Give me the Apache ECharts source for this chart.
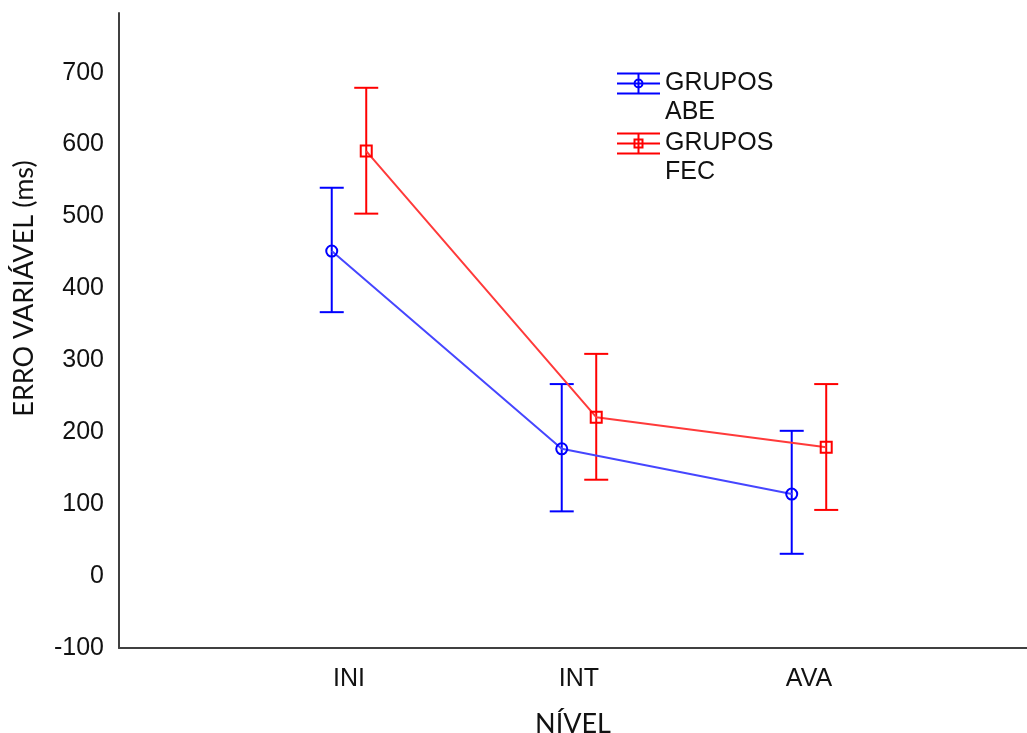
<!DOCTYPE html>
<html>
<head>
<meta charset="utf-8">
<script src="https://cdn.jsdelivr.net/npm/echarts@6/dist/echarts.min.js"></script>
<style>
  html, body { margin: 0; padding: 0; background: #fff; }
  #chart { width: 1027px; height: 733px; }
</style>
</head>
<body>
<div id="chart"></div>
<script>
const categories = ['INI', 'INT', 'AVA']
const groupNames = ['GRUPOS ABE', 'GRUPOS FEC']
// ABE
const abeMean = [452, 177, 114]
const abeLow = [367, 90, 31]
const abeHigh = [540, 267, 202]
// FEC
const fecMean = [591, 221, 179]
const fecLow = [504, 134, 92]
const fecHigh = [679, 309, 267]

const shift = 0.075 // small dodge so the bars do not overlap

function points(mean, dx) {
    return mean.map((v, i) => [i + 1 + dx, v])
}
function bars(low, high, dx) {
    return low.map((v, i) => [i + 1 + dx, v, high[i]])
}

const blue = '#0000ff'
const red = '#ff0000'
const txt = '#111'
const sans = 'Liberation Sans, Arial, sans-serif'

const iconAbe = 'path://M0,0H43V2H0Z M0,10H43V12H0Z M0,20H43V22H0Z M20.5,0H22.5V22H20.5Z ' +
    'M26.5,11A5,5 0 1,1 16.5,11A5,5 0 1,1 26.5,11Z M24.5,11A3,3 0 1,0 18.5,11A3,3 0 1,0 24.5,11Z'
const iconFec = 'path://M0,0H43V2H0Z M0,10H43V12H0Z M0,20H43V22H0Z M20.5,0H22.5V22H20.5Z ' +
    'M16.5,6H26.5V16H16.5Z M18.5,8V14H24.5V8Z'

function errorBar(params, api) {
    const x = api.value(0)
    const lo = api.coord([x, api.value(1)])
    const hi = api.coord([x, api.value(2)])
    const half = 12
    const style = { stroke: api.visual('color'), lineWidth: 2 }
    return {
        type: 'group',
        children: [
            { type: 'line', shape: { x1: lo[0], y1: lo[1], x2: hi[0], y2: hi[1] }, style },
            { type: 'line', shape: { x1: hi[0] - half, y1: hi[1], x2: hi[0] + half, y2: hi[1] }, style },
            { type: 'line', shape: { x1: lo[0] - half, y1: lo[1], x2: lo[0] + half, y2: lo[1] }, style }
        ]
    }
}

const chart = echarts.init(document.getElementById('chart'))
chart.setOption({
    animation: false,
    textStyle: { fontFamily: sans },
    grid: { left: 119, right: 0, top: 13, bottom: 85, containLabel: false, outerBoundsMode: 'none' },
    legend: {
        left: 617,
        top: 40,
        orient: 'vertical',
        padding: 0,
        itemGap: -27,
        itemWidth: 43,
        itemHeight: 22,
        selectedMode: false,
        // leading blank line keeps the first word level with the icon
        formatter: name => '\n' + name.replace(' ', '\n'),
        textStyle: {
            fontFamily: sans,
            fontSize: 25,
            color: txt,
            lineHeight: 29
        },
        data: [
            { name: groupNames[0], icon: iconAbe, itemStyle: { color: blue, borderWidth: 0 } },
            { name: groupNames[1], icon: iconFec, itemStyle: { color: red, borderWidth: 0 } }
        ]
    },
    xAxis: {
        type: 'value',
        min: 0,
        max: 3.948,
        interval: 1,
        splitLine: { show: false },
        axisTick: { show: false },
        axisLine: { onZero: false, lineStyle: { color: '#404040', width: 2 } },
        axisLabel: {
            fontFamily: sans,
            fontSize: 25,
            color: txt,
            margin: 19,
            showMaxLabel: false,
            formatter: v => categories[v - 1] || ''
        },
        name: 'NÍVEL',
        nameLocation: 'middle',
        nameGap: 63,
        nameTextStyle: { fontFamily: 'Lato', fontSize: 27, color: txt }
    },
    yAxis: {
        type: 'value',
        min: -100,
        max: 783,
        interval: 100,
        splitLine: { show: false },
        axisTick: { show: false },
        axisLine: { show: true, onZero: false, lineStyle: { color: '#404040', width: 2 } },
        axisLabel: {
            fontFamily: sans,
            fontSize: 25,
            color: txt,
            margin: 15,
            showMaxLabel: false
        },
        name: 'ERRO VARIÁVEL (ms)',
        nameLocation: 'middle',
        nameRotate: 90,
        nameGap: 81,
        nameTextStyle: { fontFamily: 'Lato', fontSize: 27, color: txt, padding: [0, 0, 0, 84] }
    },
    series: [
        {
            name: 'abe-bars',
            type: 'custom',
            renderItem: errorBar,
            itemStyle: { color: blue },
            encode: { x: 0, y: [1, 2] },
            data: bars(abeLow, abeHigh, -shift),
            z: 2
        },
        {
            name: 'fec-bars',
            type: 'custom',
            renderItem: errorBar,
            itemStyle: { color: red },
            encode: { x: 0, y: [1, 2] },
            data: bars(fecLow, fecHigh, shift),
            z: 2
        },
        {
            name: groupNames[0],
            type: 'line',
            data: points(abeMean, -shift),
            symbol: 'circle',
            symbolSize: 11,
            itemStyle: { color: 'rgba(0,0,0,0)', borderColor: blue, borderWidth: 2 },
            lineStyle: { color: '#4646ff', width: 2 },
            z: 3
        },
        {
            name: groupNames[1],
            type: 'line',
            data: points(fecMean, shift),
            symbol: 'rect',
            symbolSize: 11,
            itemStyle: { color: 'rgba(0,0,0,0)', borderColor: red, borderWidth: 2 },
            lineStyle: { color: '#ff3a3a', width: 2 },
            z: 3
        }
    ]
})
</script>
</body>
</html>
